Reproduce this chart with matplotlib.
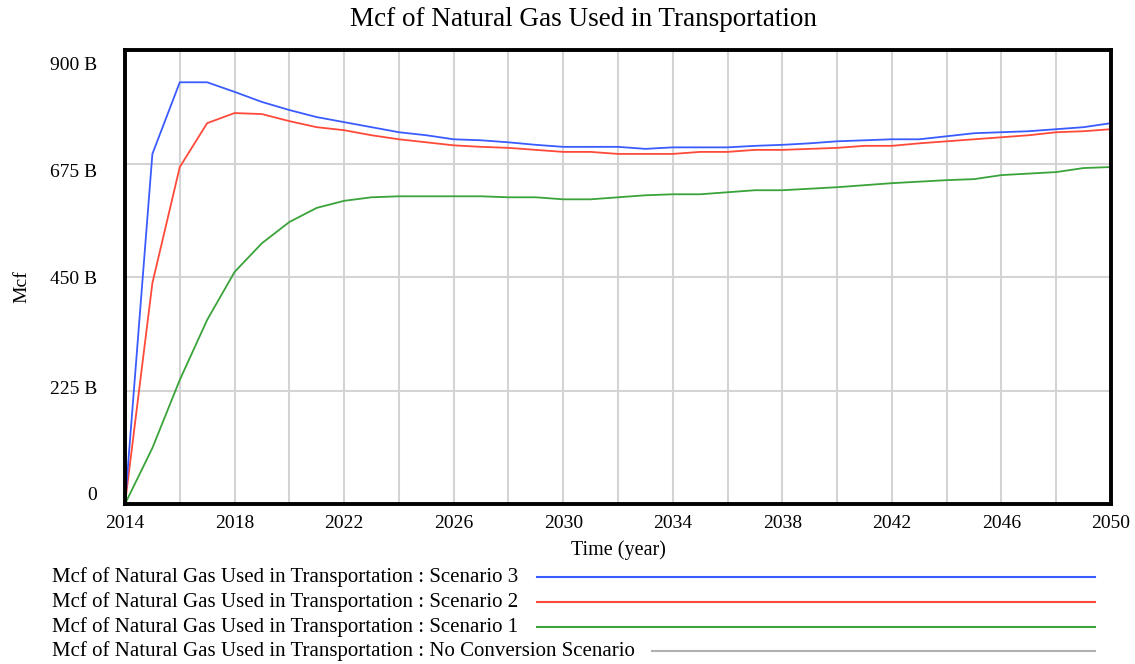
import matplotlib.pyplot as plt
from matplotlib.lines import Line2D
from matplotlib.transforms import ScaledTranslation

years = list(range(2014, 2051))

scenario_3 = [0, 694, 836, 836, 817, 797, 781, 767, 757, 747, 737, 731, 723, 721,
              717, 712, 708, 708, 708, 704, 707, 707, 707, 710, 712, 715, 719, 721,
              723, 723, 729, 735, 737, 739, 743, 747, 755, 757][:37]
scenario_2 = [0, 438, 668, 755, 775, 773, 759, 747, 741, 731, 723, 717, 711, 708,
              706, 702, 698, 698, 694, 694, 694, 698, 698, 702, 702, 704, 706, 710,
              710, 715, 719, 723, 727, 731, 737, 739, 743]
scenario_1 = [0, 111, 246, 365, 460, 517, 559, 587, 601, 608, 610, 610, 610, 610,
              608, 608, 604, 604, 608, 612, 614, 614, 618, 622, 622, 625, 628, 632,
              636, 639, 642, 644, 652, 655, 658, 666, 668]
no_conversion = [0] * 37

series = [
    ("Mcf of Natural Gas Used in Transportation : Scenario 3", scenario_3, "#3a5cff"),
    ("Mcf of Natural Gas Used in Transportation : Scenario 2", scenario_2, "#ff4a3a"),
    ("Mcf of Natural Gas Used in Transportation : Scenario 1", scenario_1, "#3aa33a"),
    ("Mcf of Natural Gas Used in Transportation : No Conversion Scenario", no_conversion, "#b0b0b0"),
]

y_ticks = [0, 225, 450, 675, 900]
y_labels = ["0", "225 B", "450 B", "675 B", "900 B"]
x_ticks = list(range(2014, 2051, 4))

plt.rcParams['font.family'] = ['Liberation Serif', 'DejaVu Serif']

fig = plt.figure(figsize=(11.35, 6.64), dpi=100)
ax = fig.add_axes([125 / 1135, 1 - 504 / 664, 986 / 1135, 454 / 664])

for label, vals, color in reversed(series):
    ax.plot(years, vals, color=color, lw=1.3, zorder=3 if vals is not no_conversion else 1)

ax.set_xlim(2014, 2050)
ax.set_ylim(0, 900)
ax.set_xticks(x_ticks)
ax.set_xticks(range(2014, 2051, 2), minor=True)
ax.set_yticks(y_ticks)
ax.set_yticklabels(y_labels)
ax.tick_params(axis='both', which='both', length=0, labelsize=14, pad=8)
ax.tick_params(axis='y', pad=20)
# the original tool nudges its y labels off the gridlines
y_shift = [11, 3, -1, -7, -13]
for t, dy in zip(ax.get_yticklabels(), y_shift):
    t.set_horizontalalignment('right')
    t.set_transform(t.get_transform() + ScaledTranslation(0, dy / 100, fig.dpi_scale_trans))
ax.grid(True, which='both', color='#d4d4d4', lw=1.5)
ax.set_axisbelow(True)
for sp in ax.spines.values():
    sp.set_linewidth(2.8)
    sp.set_color('black')
    sp.set_zorder(5)

ax.set_xlabel("Time (year)", fontsize=14.5, labelpad=6)
fig.text(22 / 1135, 1 - 287 / 664, "Mcf", rotation=90, fontsize=14, ha='center', va='center')
fig.text(583 / 1135, 1 - 19 / 664, "Mcf of Natural Gas Used in Transportation",
         fontsize=19.5, ha='center', va='center')

# legend drawn below like the original tool
row_y = [577, 602, 627, 651]
line_start = [537, 537, 537, 652]
for (label, vals, color), y, xs in zip(series, row_y, line_start):
    fy = 1 - y / 664
    fig.text(52 / 1135, fy, label, fontsize=15, ha='left', va='center')
    fig.add_artist(Line2D([xs / 1135, 1095 / 1135], [fy, fy], color=color, lw=1.5,
                          transform=fig.transFigure))

fig.savefig("out.png", dpi=100)
